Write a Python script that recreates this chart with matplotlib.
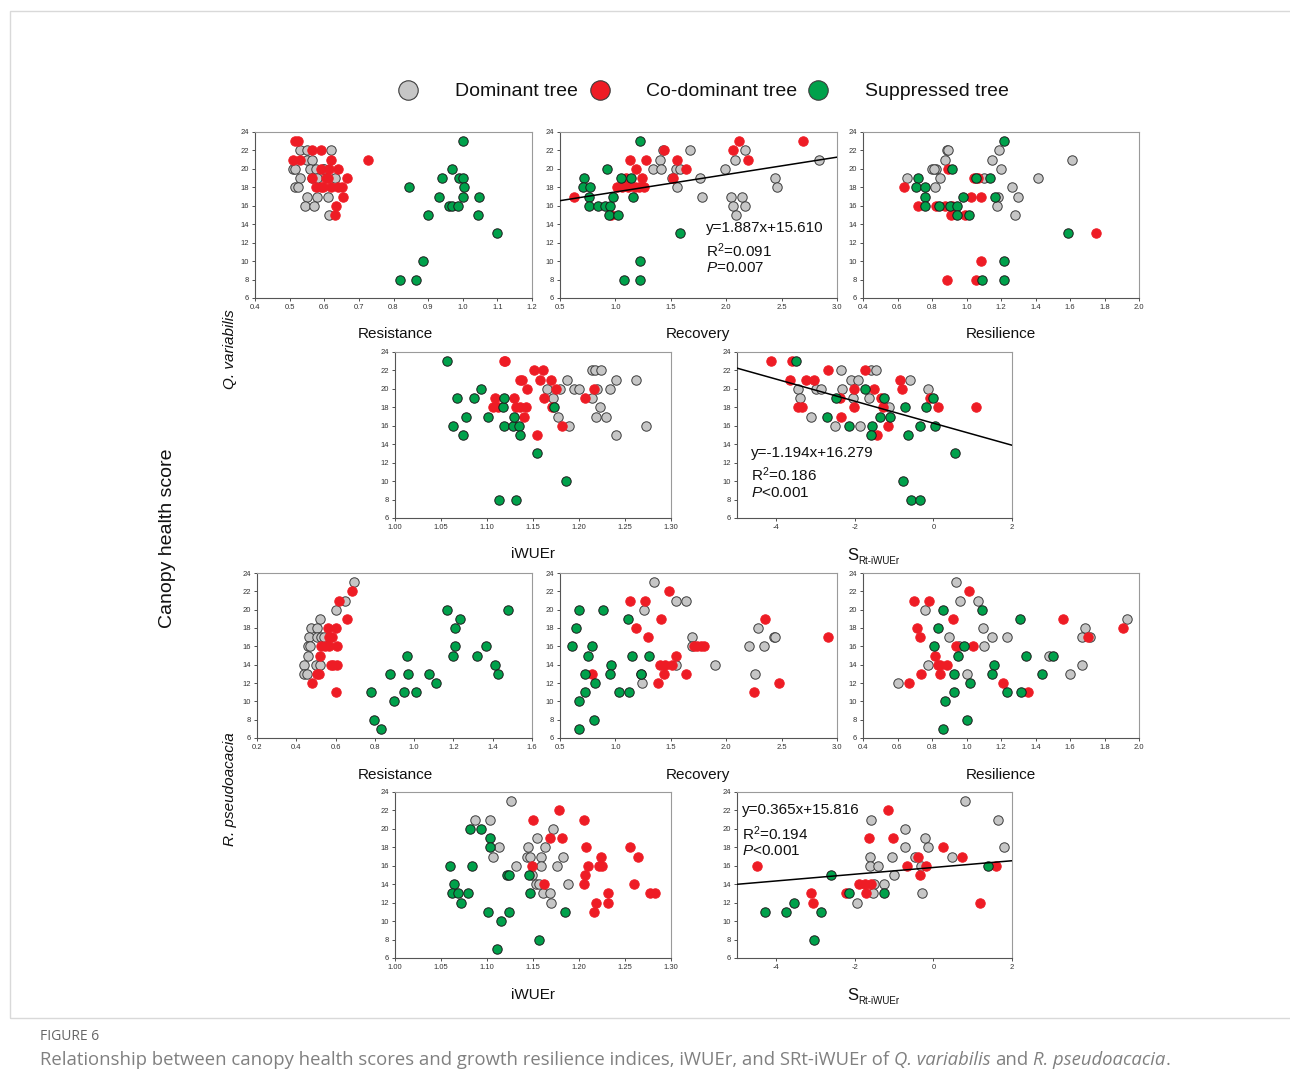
import matplotlib.pyplot as plt
from matplotlib.lines import Line2D
from matplotlib.patches import Rectangle
import numpy as np

plt.rcParams['font.family'] = ['Liberation Sans', 'DejaVu Sans']
plt.rcParams['mathtext.fontset'] = 'custom'
plt.rcParams['mathtext.rm'] = 'Liberation Sans'
plt.rcParams['mathtext.it'] = 'Liberation Sans:italic'

# ---------------- data ----------------
groups = ['Dominant tree', 'Co-dominant tree', 'Suppressed tree']

# Q. variabilis - Resistance
qv_resistance_dom = [(0.53, 22), (0.55, 22), (0.62, 22), (0.55, 21), (0.565, 21), (0.51, 20), (0.515, 20),
                     (0.56, 20), (0.575, 20), (0.595, 20), (0.60, 20), (0.53, 19), (0.565, 19), (0.58, 19),
                     (0.63, 19), (0.515, 18), (0.525, 18), (0.55, 17), (0.58, 17), (0.61, 17), (0.545, 16),
                     (0.57, 16), (0.615, 15)]
qv_resistance_codom = [(0.515, 23), (0.525, 23), (0.565, 22), (0.59, 22), (0.51, 21), (0.53, 21), (0.62, 21),
                       (0.725, 21), (0.59, 20), (0.615, 20), (0.64, 20), (0.565, 19), (0.605, 19), (0.61, 19),
                       (0.665, 19), (0.575, 18), (0.59, 18), (0.595, 18), (0.62, 18), (0.64, 18), (0.65, 18),
                       (0.655, 17), (0.635, 16), (0.63, 15)]
qv_resistance_supp = [(1.0, 23), (0.97, 20), (0.94, 19), (0.99, 19), (1.0, 19), (0.845, 18), (1.005, 18),
                      (0.93, 17), (1.0, 17), (1.047, 17), (0.96, 16), (0.97, 16), (0.985, 16), (0.9, 15),
                      (1.045, 15), (1.1, 13), (0.885, 10), (0.82, 8), (0.865, 8)]

# Q. variabilis - Recovery
qv_recovery_dom = [(1.40, 21), (1.43, 22), (1.34, 20), (1.41, 20), (1.55, 20), (1.58, 20), (1.51, 19),
                   (1.56, 18), (1.67, 22), (1.76, 19), (1.78, 17), (1.99, 20), (2.08, 21), (2.17, 22),
                   (2.04, 17), (2.06, 16), (2.09, 15), (2.14, 17), (2.17, 16), (2.44, 19), (2.46, 18),
                   (2.84, 21)]
qv_recovery_codom = [(0.63, 17), (1.13, 21), (1.19, 20), (1.28, 21), (1.01, 18), (1.06, 18), (1.10, 19),
                     (1.11, 18), (1.18, 18), (1.21, 18), (1.24, 19), (1.26, 18), (1.44, 22), (1.56, 21),
                     (1.64, 20), (1.52, 19), (2.06, 22), (2.12, 23), (2.20, 21), (2.69, 23), (0.96, 15)]
qv_recovery_supp = [(0.72, 19), (0.71, 18), (0.77, 18), (0.76, 17), (0.76, 16), (0.84, 16), (0.92, 20),
                    (0.91, 16), (0.95, 16), (0.94, 15), (1.02, 15), (0.98, 17), (1.05, 19), (1.14, 19),
                    (1.16, 17), (1.22, 23), (1.58, 13), (1.22, 10), (1.08, 8), (1.22, 8)]

# Q. variabilis - Resilience
qv_resilience_dom = [(0.657, 19), (0.80, 20), (0.826, 20), (0.81, 20), (0.874, 21), (0.887, 22), (0.893, 22),
                     (0.849, 19), (0.82, 18), (1.10, 19), (1.15, 21), (1.19, 22), (1.20, 20), (1.18, 17),
                     (1.178, 16), (1.265, 18), (1.30, 17), (1.284, 15), (1.415, 19), (1.61, 21)]
qv_resilience_codom = [(0.64, 18), (0.72, 16), (0.826, 16), (0.878, 16), (0.916, 16), (0.89, 20), (0.91, 15),
                       (0.99, 15), (1.025, 17), (1.083, 17), (1.044, 19), (1.067, 19), (1.083, 10), (0.887, 8),
                       (1.054, 8), (1.748, 13)]
qv_resilience_supp = [(0.72, 19), (0.71, 18), (0.76, 18), (0.758, 17), (0.758, 16), (0.84, 16), (0.907, 16),
                      (0.945, 16), (0.945, 15), (0.918, 20), (0.98, 17), (1.013, 15), (1.054, 19), (1.139, 19),
                      (1.164, 17), (1.218, 23), (1.218, 10), (1.087, 8), (1.218, 8), (1.586, 13)]

# Q. variabilis - iWUEr
qv_iwue_dom = [(1.165, 20), (1.172, 19), (1.179, 20), (1.177, 17), (1.187, 21), (1.189, 16), (1.195, 20),
               (1.20, 20), (1.214, 22), (1.217, 22), (1.224, 22), (1.214, 19), (1.22, 20), (1.218, 17),
               (1.223, 18), (1.229, 17), (1.234, 20), (1.24, 21), (1.24, 15), (1.262, 21), (1.273, 16)]
qv_iwue_codom = [(1.118, 23), (1.12, 23), (1.107, 18), (1.109, 19), (1.112, 18), (1.129, 19), (1.132, 18),
                 (1.136, 18), (1.142, 18), (1.140, 17), (1.136, 21), (1.138, 21), (1.144, 20), (1.151, 22),
                 (1.158, 21), (1.161, 22), (1.162, 19), (1.170, 21), (1.175, 20), (1.171, 18), (1.181, 16),
                 (1.154, 15), (1.207, 19), (1.216, 20)]
qv_iwue_supp = [(1.057, 23), (1.063, 16), (1.067, 19), (1.074, 15), (1.077, 17), (1.086, 19), (1.093, 20),
                (1.101, 17), (1.117, 18), (1.118, 19), (1.119, 16), (1.128, 16), (1.129, 17), (1.135, 16),
                (1.136, 15), (1.154, 13), (1.173, 18), (1.186, 10), (1.113, 8), (1.132, 8)]

# Q. variabilis - S Rt-iWUEr
qv_s_dom = [(-3.45, 20), (-3.40, 19), (-3.0, 20), (-2.86, 20), (-3.11, 17), (-2.51, 16), (-2.36, 22),
            (-2.32, 20), (-2.11, 21), (-1.92, 21), (-2.05, 19), (-1.88, 16), (-1.64, 19), (-1.58, 22),
            (-1.46, 22), (-1.14, 18), (-0.60, 21), (-0.15, 20)]
qv_s_codom = [(-4.14, 23), (-3.59, 23), (-3.66, 21), (-3.24, 21), (-3.03, 21), (-2.69, 22), (-1.75, 22),
              (-3.44, 18), (-3.34, 18), (-2.39, 19), (-2.35, 17), (-2.03, 20), (-2.03, 18), (-1.52, 20),
              (-1.33, 19), (-1.28, 18), (-1.16, 16), (-1.43, 15), (-0.84, 21), (-0.81, 20), (-0.09, 19),
              (0.11, 18), (1.09, 18)]
qv_s_supp = [(-3.51, 23), (-2.70, 17), (-2.47, 19), (-2.14, 16), (-1.73, 20), (-1.56, 16), (-1.58, 15),
             (-1.35, 17), (-1.25, 19), (-1.11, 17), (-0.73, 18), (-0.64, 15), (-0.35, 16), (-0.20, 18),
             (-0.01, 19), (0.05, 16), (0.56, 13), (-0.78, 10), (-0.56, 8), (-0.33, 8)]

# R. pseudoacacia - Resistance
rp_resistance_dom = [(0.695, 23), (0.65, 21), (0.60, 20), (0.52, 19), (0.477, 18), (0.506, 18), (0.465, 17),
                     (0.503, 17), (0.528, 17), (0.542, 17), (0.46, 16), (0.468, 16), (0.46, 15), (0.438, 14),
                     (0.50, 14), (0.523, 14), (0.44, 13), (0.455, 13)]
rp_resistance_codom = [(0.685, 22), (0.617, 21), (0.656, 19), (0.562, 18), (0.601, 18), (0.566, 17), (0.58, 17),
                       (0.528, 16), (0.545, 16), (0.566, 16), (0.605, 16), (0.523, 15), (0.576, 14), (0.588, 14),
                       (0.608, 14), (0.503, 13), (0.516, 13), (0.482, 12), (0.601, 11)]
rp_resistance_supp = [(1.169, 20), (1.477, 20), (1.231, 19), (1.208, 18), (1.208, 16), (1.367, 16), (1.197, 15),
                      (1.319, 15), (0.962, 15), (0.877, 13), (0.970, 13), (1.078, 13), (1.413, 14), (1.426, 13),
                      (1.111, 12), (0.782, 11), (0.95, 11), (1.01, 11), (0.897, 10), (0.795, 8), (0.829, 7)]

# R. pseudoacacia - Recovery
rp_recovery_dom = [(1.35, 23), (1.26, 20), (1.55, 21), (1.64, 21), (1.69, 17), (1.69, 16), (1.55, 14),
                   (1.90, 14), (1.24, 12), (1.23, 13), (2.21, 16), (2.29, 18), (2.34, 16), (2.43, 17),
                   (2.44, 17), (2.26, 13)]
rp_recovery_codom = [(1.13, 21), (1.27, 21), (1.48, 22), (1.41, 19), (1.19, 18), (1.29, 17), (0.79, 13),
                     (1.38, 12), (1.40, 14), (1.45, 14), (1.51, 14), (1.44, 13), (1.55, 15), (1.64, 13),
                     (1.71, 16), (1.74, 16), (1.77, 16), (1.80, 16), (2.35, 19), (2.25, 11), (2.48, 12),
                     (2.92, 17)]
rp_recovery_supp = [(0.67, 20), (0.89, 20), (0.64, 18), (0.61, 16), (0.79, 16), (0.75, 15), (1.11, 19),
                    (1.15, 15), (1.30, 15), (0.96, 14), (0.73, 13), (0.95, 13), (1.23, 13), (0.82, 12),
                    (0.73, 11), (1.03, 11), (1.12, 11), (0.67, 10), (0.81, 8), (0.67, 7)]

# R. pseudoacacia - Resilience
rp_resilience_dom = [(0.94, 23), (0.96, 21), (1.067, 21), (0.758, 20), (0.897, 17), (1.096, 18), (1.145, 17),
                     (1.232, 17), (1.102, 16), (0.777, 14), (1.0, 13), (0.6, 12), (1.479, 15), (1.667, 17),
                     (1.686, 18), (1.715, 17), (1.599, 13), (1.667, 14), (1.932, 19), (0.957, 16)]
rp_resilience_codom = [(0.696, 21), (0.783, 21), (1.013, 22), (0.715, 18), (0.729, 17), (0.922, 19), (0.941, 16),
                       (1.038, 16), (0.82, 15), (0.836, 14), (0.845, 14), (0.889, 14), (0.738, 13), (0.849, 13),
                       (0.667, 12), (1.209, 12), (1.357, 11), (1.557, 19), (1.702, 17), (1.909, 18)]
rp_resilience_supp = [(0.864, 20), (1.092, 20), (0.835, 18), (0.81, 16), (0.986, 16), (0.951, 15), (1.16, 14),
                      (0.928, 13), (1.148, 13), (1.023, 12), (0.928, 11), (1.232, 11), (1.315, 11), (1.309, 19),
                      (1.344, 15), (1.435, 13), (1.499, 15), (0.874, 10), (1.003, 8), (0.864, 7)]

# R. pseudoacacia - iWUEr
rp_iwue_dom = [(1.126, 23), (1.087, 21), (1.103, 21), (1.113, 18), (1.106, 17), (1.131, 16), (1.145, 18),
               (1.143, 17), (1.147, 17), (1.154, 19), (1.163, 18), (1.159, 17), (1.159, 16), (1.172, 20),
               (1.183, 17), (1.176, 16), (1.149, 15), (1.153, 14), (1.156, 14), (1.161, 13), (1.168, 13),
               (1.170, 12), (1.188, 14)]
rp_iwue_codom = [(1.150, 21), (1.178, 22), (1.205, 21), (1.168, 19), (1.181, 19), (1.208, 18), (1.224, 17),
                 (1.210, 16), (1.222, 16), (1.225, 16), (1.207, 15), (1.205, 14), (1.149, 16), (1.162, 14),
                 (1.218, 12), (1.231, 13), (1.231, 12), (1.216, 11), (1.255, 18), (1.264, 17), (1.260, 14),
                 (1.277, 13), (1.283, 13)]
rp_iwue_supp = [(1.081, 20), (1.093, 20), (1.103, 19), (1.103, 18), (1.060, 16), (1.084, 16), (1.064, 14),
                (1.062, 13), (1.069, 13), (1.079, 13), (1.072, 12), (1.122, 15), (1.124, 15), (1.146, 15),
                (1.147, 13), (1.101, 11), (1.124, 11), (1.115, 10), (1.111, 7), (1.156, 8), (1.185, 11)]

# R. pseudoacacia - S Rt-iWUEr
rp_s_dom = [(-1.58, 21), (-1.62, 17), (-1.62, 16), (-1.42, 16), (-1.52, 14), (-1.54, 13), (-1.94, 12),
            (-1.25, 14), (-1.05, 17), (-1.01, 15), (-0.73, 20), (-0.73, 18), (-0.46, 17), (-0.31, 16),
            (-0.29, 13), (-0.22, 19), (-0.14, 18), (0.47, 17), (0.80, 23), (1.64, 21), (1.79, 18)]
rp_s_codom = [(-4.50, 16), (-3.11, 13), (-3.07, 12), (-2.22, 13), (-1.90, 14), (-1.73, 14), (-1.60, 14),
              (-1.71, 13), (-1.63, 19), (-1.16, 22), (-1.03, 19), (-0.67, 16), (-0.39, 17), (-0.33, 15),
              (-0.18, 16), (0.25, 18), (0.73, 17), (1.18, 12), (1.58, 16)]
rp_s_supp = [(-4.30, 11), (-3.76, 11), (-3.55, 12), (-2.87, 11), (-3.04, 8), (-2.62, 15), (-2.14, 13),
             (-1.25, 13), (1.39, 16)]

# fitted regressions: (slope, intercept, R2, P text)
fit_qv_recovery = (1.887, 15.610, '0.091', '=0.007')
fit_qv_s = (-1.194, 16.279, '0.186', '<0.001')
fit_rp_s = (0.365, 15.816, '0.194', '<0.001')

# ---------------- styling ----------------
W, H = 1290, 1092
fills = ['#c6c6c6', '#ee1c25', '#00a14b']
edges = ['#3c3c3c', '#ee1c25', '#1c1c1c']

fig = plt.figure(figsize=(W / 100, H / 100), dpi=100)


def px_axes(l, t, r, b):
    return fig.add_axes([l / W, 1 - b / H, (r - l) / W, (b - t) / H])


def draw_panel(box, sets, xlim, xticks, fmt, fit=None, txt=None):
    ax = px_axes(*box)
    for i, pts in enumerate(sets):
        arr = np.array(pts)
        ax.scatter(arr[:, 0], arr[:, 1], s=46, c=fills[i], edgecolors=edges[i],
                   linewidths=0.7, zorder=3 + i)
    if fit is not None:
        xs = np.array(xlim)
        ax.plot(xs, fit[0] * xs + fit[1], color='black', lw=1.1, zorder=10)
        sign = '+' if fit[1] >= 0 else '-'
        lines = ['y=%.3fx%s%.3f' % (fit[0], sign, abs(fit[1])),
                 r'R$^{2}$=' + fit[2],
                 r'$P$' + fit[3]]
        for s, (tx, ty) in zip(lines, txt):
            ax.text(tx, ty, s, transform=ax.transAxes, fontsize=11, ha='left',
                    va='center', color='#111111', zorder=11)
    ax.set_xlim(*xlim)
    ax.set_ylim(6, 24)
    ax.set_yticks(np.arange(6, 25, 2))
    ax.set_xticks(xticks)
    ax.set_xticklabels([fmt % v for v in xticks])
    ax.tick_params(labelsize=5.5, length=2.5, width=0.6, colors='#333333', pad=2)
    for side in ['top', 'right']:
        ax.spines[side].set_color('#9a9a9a')
    for side in ['left', 'bottom']:
        ax.spines[side].set_color('#555555')
    for sp in ax.spines.values():
        sp.set_linewidth(0.8)
    return ax


t1 = np.round(np.arange(0.4, 1.21, 0.1), 2)
t_rec = np.round(np.arange(0.5, 3.01, 0.5), 2)
t_res = np.round(np.arange(0.4, 2.01, 0.2), 2)
t_iw = np.round(np.arange(1.0, 1.301, 0.05), 2)
t_s = [-4, -2, 0, 2]
t_rp = np.round(np.arange(0.2, 1.61, 0.2), 2)

draw_panel((255, 132, 532, 298), [qv_resistance_dom, qv_resistance_codom, qv_resistance_supp],
           (0.4, 1.2), t1, '%.1f')
draw_panel((560, 132, 837, 298), [qv_recovery_dom, qv_recovery_codom, qv_recovery_supp],
           (0.5, 3.0), t_rec, '%.1f', fit_qv_recovery,
           [(0.527, 0.42), (0.527, 0.285), (0.527, 0.18)])
draw_panel((863, 132, 1139, 298), [qv_resilience_dom, qv_resilience_codom, qv_resilience_supp],
           (0.4, 2.0), t_res, '%.1f')
draw_panel((395, 352, 671, 518), [qv_iwue_dom, qv_iwue_codom, qv_iwue_supp],
           (1.0, 1.3), t_iw, '%.2f')
draw_panel((737, 352, 1012, 518), [qv_s_dom, qv_s_codom, qv_s_supp],
           (-5, 2), t_s, '%d', fit_qv_s,
           [(0.05, 0.39), (0.05, 0.26), (0.05, 0.15)])
draw_panel((257, 573, 532, 738), [rp_resistance_dom, rp_resistance_codom, rp_resistance_supp],
           (0.2, 1.6), t_rp, '%.1f')
draw_panel((560, 573, 837, 738), [rp_recovery_dom, rp_recovery_codom, rp_recovery_supp],
           (0.5, 3.0), t_rec, '%.1f')
draw_panel((863, 573, 1139, 738), [rp_resilience_dom, rp_resilience_codom, rp_resilience_supp],
           (0.4, 2.0), t_res, '%.1f')
draw_panel((395, 792, 671, 958), [rp_iwue_dom, rp_iwue_codom, rp_iwue_supp],
           (1.0, 1.3), t_iw, '%.2f')
draw_panel((737, 792, 1012, 958), [rp_s_dom, rp_s_codom, rp_s_supp],
           (-5, 2), t_s, '%d', fit_rp_s,
           [(0.018, 0.89), (0.018, 0.75), (0.018, 0.645)])


def ftext(x, y, s, **kw):
    return fig.text(x / W, 1 - y / H, s, **kw)


# x-axis titles
for x, y, s in [(395, 334, 'Resistance'), (698, 334, 'Recovery'), (1001, 334, 'Resilience'),
                (533, 554, 'iWUEr'),
                (395, 775, 'Resistance'), (698, 775, 'Recovery'), (1001, 775, 'Resilience'),
                (533, 995, 'iWUEr')]:
    ftext(x, y, s, fontsize=11, ha='center', va='center', color='#111111')
for y in [556, 996]:
    ftext(847, y, 'S', fontsize=12, ha='left', va='center', color='#111111')
    ftext(858, y + 5, 'Rt-iWUEr', fontsize=7, ha='left', va='center', color='#111111')

# y titles
ftext(168, 538, 'Canopy health score', fontsize=14, rotation=90, ha='center', va='center', color='#111111')
ftext(230, 349, 'Q. variabilis', fontsize=11, style='italic', rotation=90, ha='center', va='center',
      color='#111111')
ftext(230, 789, 'R. pseudoacacia', fontsize=11, style='italic', rotation=90, ha='center', va='center',
      color='#111111')

# legend
for i, (mx, tx) in enumerate([(408, 455), (600, 646), (818, 865)]):
    fig.add_artist(Line2D([mx / W], [1 - 90 / H], marker='o', markersize=14, linestyle='none',
                          markerfacecolor=fills[i], markeredgecolor='#3c3c3c', markeredgewidth=0.8,
                          transform=fig.transFigure))
    ftext(tx, 91, groups[i], fontsize=14, ha='left', va='center', color='#111111')

# frame around the figure body
fig.add_artist(Rectangle((10 / W, 1 - 1018 / H), 1300 / W, 1007 / H, transform=fig.transFigure,
                         fill=False, edgecolor='#d9d9d9', linewidth=1.0))

# caption
ftext(40, 1036, 'FIGURE 6', fontsize=10, family=['Open Sans', 'DejaVu Sans'], ha='left', va='center',
      color='#666666')
pieces = [('Relationship between canopy health scores and growth resilience indices, iWUEr, and SRt-iWUEr of',
           'normal'), ('Q. variabilis', 'italic'), ('and', 'normal'), ('R. pseudoacacia', 'italic'), ('.', 'normal')]
renderer = fig.canvas.get_renderer()
cap_kw = dict(fontsize=13.3, family=['Open Sans', 'DejaVu Sans'], ha='left', va='center', color='#808080')
probe = ftext(0, -100, 'x x', **cap_kw)
probe2 = ftext(0, -100, 'xx', **cap_kw)
space_px = probe.get_window_extent(renderer).width - probe2.get_window_extent(renderer).width
probe.remove()
probe2.remove()
xpos = 40
for k, (s, st) in enumerate(pieces):
    t = ftext(xpos, 1060, s, style=st, **cap_kw)
    w = t.get_window_extent(renderer).width
    gap = 0 if (k + 1 < len(pieces) and pieces[k + 1][0] == '.') else space_px
    xpos += w + gap

fig.savefig('out.png', dpi=100)
